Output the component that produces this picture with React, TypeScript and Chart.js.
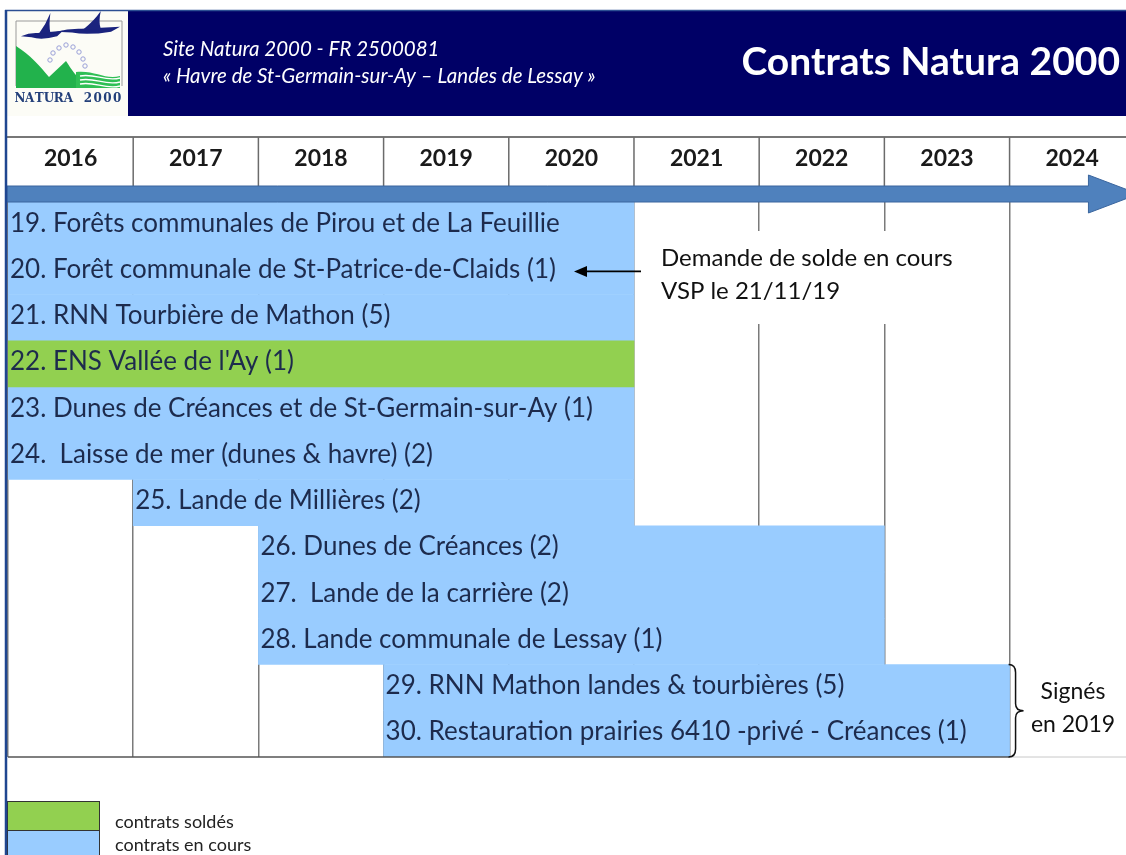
import React, { useEffect, useRef } from "react";
import { Chart, registerables } from "chart.js";

Chart.register(...registerables);

// ---- data ----
const contractLabels = [
  "19. Forêts communales de Pirou et de La Feuillie",
  "20. Forêt communale de St-Patrice-de-Claids (1)",
  "21. RNN Tourbière de Mathon (5)",
  "22. ENS Vallée de l'Ay (1)",
  "23. Dunes de Créances et de St-Germain-sur-Ay (1)",
  "24.  Laisse de mer (dunes & havre) (2)",
  "25. Lande de Millières (2)",
  "26. Dunes de Créances (2)",
  "27.  Lande de la carrière (2)",
  "28. Lande communale de Lessay (1)",
  "29. RNN Mathon landes & tourbières (5)",
  "30. Restauration prairies 6410 -privé - Créances (1)",
];
const startYears = [2016, 2016, 2016, 2016, 2016, 2016, 2017, 2018, 2018, 2018, 2019, 2019];
const endYears = [2021, 2021, 2021, 2021, 2021, 2021, 2021, 2023, 2023, 2023, 2024, 2024];
const isSolde = [false, false, false, true, false, false, false, false, false, false, false, false];
const yearLabels = ["2016", "2017", "2018", "2019", "2020", "2021", "2022", "2023", "2024"];
const legendLabels = ["contrats soldés", "contrats en cours"];
const headerLine1 = "Site Natura 2000 - FR 2500081";
const headerLine2 = "« Havre de St-Germain-sur-Ay – Landes de Lessay »";
const headerTitle = "Contrats Natura 2000";
const noteLines = ["Demande de solde en cours", "VSP le 21/11/19"];
const braceLines = ["Signés", "en 2019"];

const GREEN = "#92D050";
const BLUE = "#99CCFF";
const NAVY = "#000066";
const FONT = "Lato, 'Open Sans', sans-serif";

function drawLogo(ctx: CanvasRenderingContext2D) {
  ctx.save();
  ctx.fillStyle = "#fcfcf6";
  ctx.fillRect(7, 11, 121, 105);
  // frame
  ctx.strokeStyle = "#9a9a9a";
  ctx.lineWidth = 1;
  ctx.beginPath();
  ctx.moveTo(16, 86);
  ctx.lineTo(16, 21);
  ctx.lineTo(122, 21);
  ctx.lineTo(122, 86);
  ctx.stroke();
  // green hills
  ctx.fillStyle = "#22b24c";
  ctx.beginPath();
  ctx.moveTo(16, 46);
  ctx.bezierCurveTo(30, 55, 40, 66, 49, 77);
  ctx.lineTo(66, 61);
  ctx.bezierCurveTo(72, 70, 76, 77, 84, 82);
  ctx.lineTo(84, 88);
  ctx.lineTo(16, 88);
  ctx.closePath();
  ctx.fill();
  // waves
  ctx.fillStyle = "#2fbf55";
  ctx.beginPath();
  ctx.moveTo(76, 72);
  ctx.bezierCurveTo(95, 70, 105, 80, 120, 76);
  ctx.lineTo(120, 88);
  ctx.lineTo(76, 88);
  ctx.closePath();
  ctx.fill();
  ctx.strokeStyle = "#ffffff";
  ctx.lineWidth = 1.3;
  for (let k = 0; k < 3; k++) {
    ctx.beginPath();
    ctx.moveTo(80, 76 + k * 4);
    ctx.bezierCurveTo(95, 73 + k * 4, 105, 82 + k * 4, 120, 78 + k * 4);
    ctx.stroke();
  }
  // stars
  ctx.strokeStyle = "#9aa0d8";
  ctx.lineWidth = 1;
  const stars = [
    [50, 60], [53, 53], [59, 48], [66, 45], [73, 47], [79, 52], [83, 59], [85, 66],
  ];
  stars.forEach(([sx, sy]) => {
    ctx.beginPath();
    ctx.arc(sx, sy, 2.2, 0, Math.PI * 2);
    ctx.stroke();
  });
  // birds (geese in flight)
  ctx.fillStyle = "#1a237e";
  const bird = (ox: number, oy: number, w: number, h: number) => {
    ctx.beginPath();
    ctx.moveTo(ox, oy + h * 0.86);
    ctx.quadraticCurveTo(ox + w * 0.2, oy + h * 0.72, ox + w * 0.4, oy + h * 0.74);
    ctx.lineTo(ox + w, oy + h * 0.66);
    ctx.lineTo(ox + w * 0.86, oy + h * 0.86);
    ctx.quadraticCurveTo(ox + w * 0.5, oy + h * 1.02, ox + w * 0.25, oy + h * 0.9);
    ctx.closePath();
    ctx.fill();
    ctx.beginPath();
    ctx.moveTo(ox + w * 0.42, oy + h * 0.78);
    ctx.quadraticCurveTo(ox + w * 0.6, oy + h * 0.4, ox + w * 0.7, oy);
    ctx.quadraticCurveTo(ox + w * 0.66, oy + h * 0.45, ox + w * 0.7, oy + h * 0.75);
    ctx.closePath();
    ctx.fill();
  };
  bird(21, 13, 42, 27);
  bird(56, 11, 64, 24);
  // text
  ctx.fillStyle = "#24407a";
  ctx.font = "bold 12px 'DejaVu Serif', serif";
  ctx.textBaseline = "middle";
  ctx.textAlign = "center";
  const word = "NATURA 2000";
  const step = 107 / word.length;
  let tx = 15 + step / 2;
  for (const ch of word) {
    ctx.fillText(ch, tx, 99);
    tx += step;
  }
  ctx.restore();
}

const decorPlugin = {
  id: "decor",
  beforeDraw(chart: any) {
    const ctx: CanvasRenderingContext2D = chart.ctx;
    const x = chart.scales.x;
    ctx.save();
    ctx.fillStyle = "#ffffff";
    ctx.fillRect(0, 0, chart.width, chart.height);
    // header band
    ctx.fillStyle = NAVY;
    ctx.fillRect(128, 11, chart.width - 128, 105);
    drawLogo(ctx);
    ctx.fillStyle = "#ffffff";
    ctx.textBaseline = "middle";
    ctx.textAlign = "left";
    ctx.font = `italic 20.5px ${FONT}`;
    ctx.fillText(headerLine1, 163, 49);
    ctx.fillText(headerLine2, 163, 76);
    ctx.font = `bold 39px ${FONT}`;
    ctx.textAlign = "right";
    ctx.fillText(headerTitle, 1120, 62);
    // year row
    ctx.strokeStyle = "#4a4a4a";
    ctx.lineWidth = 1.5;
    ctx.beginPath();
    ctx.moveTo(7, 137);
    ctx.lineTo(chart.width, 137);
    ctx.stroke();
    ctx.strokeStyle = "#6b6b6b";
    yearLabels.forEach((lab, i) => {
      const yr = Number(lab);
      if (i > 0) {
        const px = x.getPixelForValue(yr);
        ctx.beginPath();
        ctx.moveTo(px, 137);
        ctx.lineTo(px, 202);
        ctx.stroke();
      }
    });
    ctx.fillStyle = "#1a1a1a";
    ctx.font = `bold 23px ${FONT}`;
    ctx.textAlign = "center";
    yearLabels.forEach((lab) => {
      const yr = Number(lab);
      ctx.fillText(lab, x.getPixelForValue(yr + 0.5), 159);
    });
    ctx.restore();
  },
  afterDatasetsDraw(chart: any) {
    const ctx: CanvasRenderingContext2D = chart.ctx;
    const x = chart.scales.x;
    const area = chart.chartArea;
    ctx.save();
    // bar labels
    ctx.fillStyle = "#1d2b4d";
    ctx.font = `26px ${FONT}`;
    ctx.textBaseline = "middle";
    ctx.textAlign = "left";
    chart.data.datasets.forEach((ds: any, d: number) => {
      const meta = chart.getDatasetMeta(d);
      meta.data.forEach((bar: any, i: number) => {
        if (ds.data[i] == null) return;
        const p = bar.getProps(["x", "base", "y"], true);
        const left = Math.min(p.x, p.base);
        ctx.fillText(chart.data.labels[i], left + 2, p.y - 2);
      });
    });
    // bottom border
    const x2024 = x.getPixelForValue(2024);
    ctx.strokeStyle = "#555555";
    ctx.lineWidth = 1.5;
    ctx.beginPath();
    ctx.moveTo(area.left, area.bottom);
    ctx.lineTo(x2024, area.bottom);
    ctx.stroke();
    ctx.strokeStyle = "#c8c8c8";
    ctx.lineWidth = 1;
    ctx.beginPath();
    ctx.moveTo(x2024, area.bottom);
    ctx.lineTo(chart.width, area.bottom);
    ctx.stroke();
    // note box and text
    const row20 = chart.getDatasetMeta(1).data[1];
    const ry = row20.y;
    ctx.fillStyle = "#ffffff";
    ctx.fillRect(650, 231, 330, 93);
    ctx.fillStyle = "#111111";
    ctx.font = `24px ${FONT}`;
    ctx.fillText(noteLines[0], 661, 258);
    ctx.fillText(noteLines[1], 661, 291);
    // note arrow
    ctx.strokeStyle = "#000000";
    ctx.lineWidth = 1.8;
    ctx.beginPath();
    ctx.moveTo(641, ry);
    ctx.lineTo(584, ry);
    ctx.stroke();
    ctx.fillStyle = "#000000";
    ctx.beginPath();
    ctx.moveTo(574, ry);
    ctx.lineTo(587, ry - 5.5);
    ctx.lineTo(587, ry + 5.5);
    ctx.closePath();
    ctx.fill();
    // brace
    const r29 = chart.getDatasetMeta(1).data[10];
    const r30 = chart.getDatasetMeta(1).data[11];
    const top = r29.y - r29.height / 2;
    const bot = r30.y + r30.height / 2;
    const mid = (top + bot) / 2;
    const bx = x2024 - 1;
    ctx.strokeStyle = "#111111";
    ctx.lineWidth = 1.5;
    ctx.beginPath();
    ctx.moveTo(bx, top);
    ctx.quadraticCurveTo(bx + 7, top, bx + 7, top + 8);
    ctx.lineTo(bx + 7, mid - 7);
    ctx.quadraticCurveTo(bx + 7, mid, bx + 15, mid);
    ctx.quadraticCurveTo(bx + 7, mid, bx + 7, mid + 7);
    ctx.lineTo(bx + 7, bot - 8);
    ctx.quadraticCurveTo(bx + 7, bot, bx, bot);
    ctx.stroke();
    ctx.fillStyle = "#111111";
    ctx.font = `23px ${FONT}`;
    ctx.textAlign = "center";
    ctx.fillText(braceLines[0], 1073, 692);
    ctx.fillText(braceLines[1], 1073, 725);
    // legend
    ctx.textAlign = "left";
    ctx.font = `18px ${FONT}`;
    const legendY = [801, 830];
    chart.data.datasets.forEach((ds: any, d: number) => {
      const y0 = legendY[d];
      const h = d === 0 ? 29 : 26;
      ctx.fillStyle = ds.backgroundColor;
      ctx.fillRect(7, y0, 93, h);
      ctx.strokeStyle = "#333333";
      ctx.lineWidth = 1;
      ctx.strokeRect(7.5, y0 + 0.5, 92, h);
      ctx.fillStyle = "#222222";
      ctx.fillText(ds.label, 115, y0 + (d === 0 ? 21 : 15));
    });
    // timeline arrow
    const ax = x.getPixelForValue(2024.63);
    ctx.fillStyle = "#4f81bd";
    ctx.strokeStyle = "#3a659e";
    ctx.lineWidth = 1;
    ctx.beginPath();
    ctx.moveTo(7, 186);
    ctx.lineTo(ax, 186);
    ctx.lineTo(ax, 175);
    ctx.lineTo(ax + 50, 194);
    ctx.lineTo(ax, 213);
    ctx.lineTo(ax, 202);
    ctx.lineTo(7, 202);
    ctx.closePath();
    ctx.fill();
    ctx.stroke();
    // outer frame
    ctx.strokeStyle = "#2c4f93";
    ctx.lineWidth = 1.5;
    ctx.beginPath();
    ctx.moveTo(5, 10.5);
    ctx.lineTo(chart.width, 10.5);
    ctx.stroke();
    ctx.strokeStyle = "#1f4690";
    ctx.lineWidth = 2.5;
    ctx.beginPath();
    ctx.moveTo(6, 10);
    ctx.lineTo(6, chart.height);
    ctx.stroke();
    ctx.restore();
  },
};

export default function App() {
  const ref = useRef<HTMLCanvasElement>(null);
  useEffect(() => {
    const canvas = ref.current;
    if (!canvas) return;
    const soldeData = contractLabels.map((_, i) => (isSolde[i] ? [startYears[i], endYears[i]] : null));
    const coursData = contractLabels.map((_, i) => (isSolde[i] ? null : [startYears[i], endYears[i]]));
    const chart = new Chart(canvas, {
      type: "bar",
      data: {
        labels: contractLabels,
        datasets: [
          {
            label: legendLabels[0],
            data: soldeData as any,
            backgroundColor: GREEN,
            borderWidth: 0,
            grouped: false,
            barPercentage: 1,
            categoryPercentage: 1,
          },
          {
            label: legendLabels[1],
            data: coursData as any,
            backgroundColor: BLUE,
            borderWidth: 0,
            grouped: false,
            barPercentage: 1,
            categoryPercentage: 1,
          },
        ],
      },
      options: {
        indexAxis: "y",
        responsive: false,
        animation: false,
        devicePixelRatio: 1,
        layout: { padding: { left: 8, right: 0, top: 202, bottom: 98 } },
        scales: {
          x: {
            type: "linear",
            min: 2016,
            max: 2024.93,
            ticks: { display: false, stepSize: 1 },
            grid: {
              drawTicks: false,
              lineWidth: 1.5,
              color: (c: any) => (c.tick && Number.isInteger(c.tick.value) ? "#7a7a7a" : "rgba(0,0,0,0)"),
            },
            border: { display: false },
          },
          y: { display: false, grid: { display: false } },
        },
        plugins: { legend: { display: false }, tooltip: { enabled: false } },
      },
      plugins: [decorPlugin],
    });
    return () => chart.destroy();
  }, []);
  return (
    <div style={{ position: "absolute", left: 0, top: 0, width: 1126, height: 855, background: "#fff" }}>
      <canvas ref={ref} width={1126} height={855} style={{ display: "block", width: 1126, height: 855 }} />
    </div>
  );
}
